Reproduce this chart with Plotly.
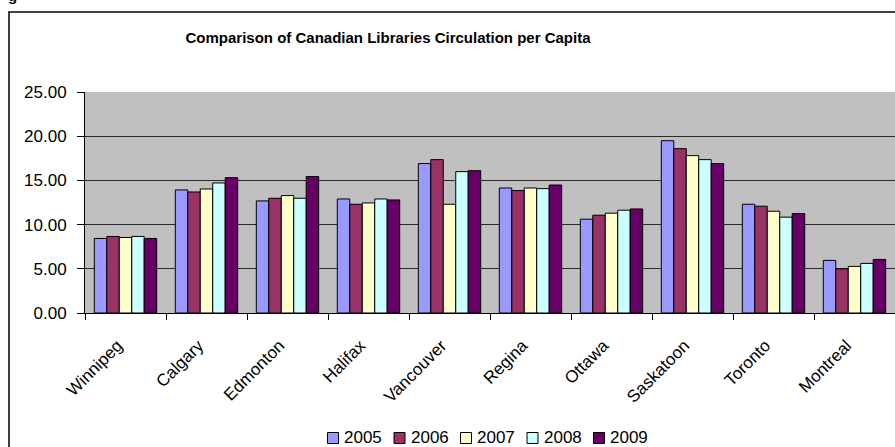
import plotly.graph_objects as go

# Circulation per capita by city and year
cities = ["Winnipeg", "Calgary", "Edmonton", "Halifax", "Vancouver",
          "Regina", "Ottawa", "Saskatoon", "Toronto", "Montreal"]
years = ["2005", "2006", "2007", "2008", "2009"]

v2005 = [8.43, 13.92, 12.68, 12.90, 16.90, 14.14, 10.61, 19.49, 12.30, 5.95]
v2006 = [8.66, 13.69, 12.98, 12.30, 17.35, 13.85, 11.06, 18.59, 12.08, 5.00]
v2007 = [8.54, 14.03, 13.28, 12.45, 12.30, 14.14, 11.29, 17.80, 11.51, 5.27]
v2008 = [8.66, 14.71, 12.98, 12.90, 15.99, 14.07, 11.63, 17.35, 10.84, 5.61]
v2009 = [8.43, 15.31, 15.43, 12.79, 16.10, 14.48, 11.77, 16.90, 11.25, 6.06]

series = [v2005, v2006, v2007, v2008, v2009]
colors = ["#9999FF", "#993366", "#FFFFCC", "#CCFFFF", "#660066"]

y_ticks = [0, 5, 10, 15, 20, 25]

W, H = 895, 447
ML, MR, MT, MB = 85, 0, 92, 134
PW, PH = W - ML - MR, H - MT - MB


def px_x(p):
    return (p - ML) / PW


def px_y(p):
    return (H - MB - p) / PH


fig = go.Figure()
for name, vals, col in zip(years, series, colors):
    fig.add_trace(go.Bar(
        name=name, x=cities, y=vals,
        marker=dict(color=col, line=dict(color="black", width=1)),
        showlegend=False,
    ))

FONT = "Liberation Sans, Arial, sans-serif"

fig.update_layout(
    width=W, height=H,
    margin=dict(l=ML, r=MR, t=MT, b=MB, pad=0),
    paper_bgcolor="white",
    plot_bgcolor="#C0C0C0",
    barmode="group",
    bargap=0.23,
    bargroupgap=0,
    font=dict(family=FONT, size=17, color="black"),
    title=dict(
        text="<b>Comparison of Canadian Libraries Circulation per Capita</b>",
        x=388 / W, xanchor="center", xref="container",
        y=1 - 38 / H, yanchor="middle", yref="container",
        font=dict(family=FONT, size=15, color="black"),
    ),
    xaxis=dict(
        type="category",
        tickangle=-45,
        tickson="boundaries",
        ticks="outside", ticklen=6, tickcolor="black", tickwidth=1,
        ticklabelstandoff=15,
        ticklabelshift=-8,
        showline=True, linecolor="black", linewidth=1,
        showgrid=False,
        tickfont=dict(family=FONT, size=17, color="black"),
    ),
    yaxis=dict(
        range=[0, 25],
        tickvals=y_ticks,
        tickformat=".2f",
        ticks="outside", ticklen=7, tickcolor="black", tickwidth=1,
        ticklabelstandoff=7,
        showline=True, linecolor="black", linewidth=1,
        showgrid=True, gridcolor="#2a2a2a", gridwidth=1,
        zeroline=False,
        tickfont=dict(family=FONT, size=17, color="black"),
    ),
)

# Outer chart frame (runs past the right and bottom edges of the page)
fig.add_shape(
    type="rect", xref="paper", yref="paper",
    x0=px_x(9), y0=px_y(470), x1=px_x(920), y1=px_y(12),
    line=dict(color="black", width=1.5), fillcolor="rgba(0,0,0,0)",
    layer="below",
)

# Legend row: colour key squares with the year next to each
legend_x0, legend_step, legend_y = 333, 66.5, 438
for i, (name, col) in enumerate(zip(years, colors)):
    cx = legend_x0 + i * legend_step
    fig.add_shape(
        type="rect", xref="paper", yref="paper",
        x0=px_x(cx - 5.5), x1=px_x(cx + 5.5),
        y0=px_y(legend_y + 5.5), y1=px_y(legend_y - 5.5),
        line=dict(color="black", width=1), fillcolor=col,
    )
    fig.add_annotation(
        text=name, xref="paper", yref="paper",
        x=px_x(cx + 10), xanchor="left", y=px_y(legend_y - 1), yanchor="middle",
        borderpad=0,
        showarrow=False, font=dict(family=FONT, size=17, color="black"),
    )

# Heading text above the frame, clipped by the page top
fig.add_annotation(
    text="<b>g</b>", xref="paper", yref="paper",
    x=px_x(6), xanchor="left", y=px_y(-5), yanchor="middle",
    showarrow=False, font=dict(family=FONT, size=15, color="black"),
)

fig.write_html("out.html")
